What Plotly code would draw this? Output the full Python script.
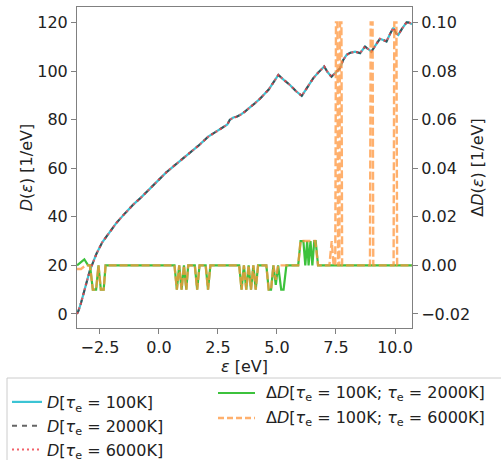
import plotly.graph_objects as go

# ---- data ----
eps_D = [-3.47, -3.40, -3.30, -3.20, -3.05, -2.92, -2.78, -2.64, -2.40, -2.14,
         -1.80, -1.44, -1.10, -0.73, -0.40, -0.03, 0.30, 0.68, 1.00, 1.39,
         1.70, 2.09, 2.30, 2.51, 2.75, 2.90, 3.00, 3.15, 3.29, 3.45,
         3.64, 3.85, 4.07, 4.28, 4.49, 4.65, 4.78, 4.92, 5.06, 5.30,
         5.55, 5.80, 6.05, 6.30, 6.54, 6.75, 7.00, 7.15, 7.31, 7.50,
         7.67, 7.80, 7.95, 8.10, 8.31, 8.52, 8.73, 8.85, 9.00, 9.20,
         9.36, 9.50, 9.64, 9.80, 9.93, 10.05, 10.14, 10.30, 10.49, 10.60, 10.72]
D_100K = [0.0, 1.5, 4.5, 8.4, 13.5, 18.0, 21.8, 24.9, 29.5, 33.2,
          37.5, 41.4, 44.9, 48.2, 51.5, 55.1, 58.2, 61.3, 63.8, 66.8,
          69.5, 73.0, 74.3, 75.8, 77.2, 78.0, 79.9, 80.9, 81.2, 82.0,
          83.3, 85.2, 86.8, 88.6, 90.9, 92.4, 94.3, 96.6, 98.4, 96.3,
          94.3, 91.8, 89.8, 93.5, 97.1, 99.4, 101.9, 99.5, 97.7, 99.5,
          101.2, 104.5, 106.7, 107.5, 108.0, 107.4, 110.1, 109.2, 108.0, 111.0,
          113.3, 112.8, 112.2, 115.5, 117.9, 115.5, 114.9, 117.5, 120.1, 120.0, 119.3]
D_2000K = list(D_100K)
D_6000K = list(D_100K)

eps_dD_2000 = [-3.47, -3.30, -3.16, -3.00, -2.92, -2.80, -2.66, -2.56, -2.46, -2.34, -2.26,
               0.66, 0.76, 0.86, 0.96, 1.06, 1.16, 1.24, 1.52, 1.62, 1.72, 1.98, 2.08, 2.18,
               3.40, 3.50, 3.60, 3.70, 3.80, 3.90, 4.00, 4.10, 4.20,
               4.55, 4.65, 4.75, 4.85, 4.95, 5.05, 5.18, 5.28, 5.40,
               5.90, 6.00, 6.12, 6.20, 6.28, 6.34, 6.42, 6.50, 6.58, 6.64, 6.74, 10.72]
dD_2000 = [0.0, 0.0015, 0.0025, 0.0, 0.0, -0.01, -0.01, 0.0, -0.01, -0.01, 0.0,
           0.0, -0.01, 0.0, -0.01, 0.0, -0.01, 0.0, 0.0, -0.01, 0.0, 0.0, -0.01, 0.0,
           0.0, -0.01, 0.0, -0.01, 0.0, -0.01, 0.0, -0.01, 0.0,
           0.0, -0.01, -0.01, 0.0, -0.008, 0.0, -0.01, -0.01, 0.0,
           0.0, 0.01, 0.01, 0.0, 0.01, 0.0, 0.01, 0.0, 0.01, 0.01, 0.0, 0.0]

eps_dD_6000 = [-3.47, -3.30, -3.10, -2.92, -2.80, -2.66, -2.56, -2.46, -2.34, -2.26,
               0.66, 0.76, 0.86, 0.96, 1.06, 1.16, 1.24, 1.52, 1.62, 1.72, 1.98, 2.08, 2.18,
               3.40, 3.50, 3.60, 3.70, 3.80, 3.90, 4.00, 4.10, 4.20,
               4.55, 4.65, 4.75, 4.85, 4.95, 5.05,
               5.90, 6.00, 6.62, 6.74,
               7.22, 7.32, 7.40, 7.47, 7.50, 7.56, 7.59, 7.64, 7.67, 7.73, 7.76,
               8.94, 8.97, 9.05, 9.08, 9.94, 9.97, 10.06, 10.09, 10.72]
dD_6000 = [-0.0015, -0.0015, 0.0, 0.0, -0.01, -0.01, 0.0, -0.01, -0.01, 0.0,
           0.0, -0.01, 0.0, -0.01, 0.0, -0.01, 0.0, 0.0, -0.01, 0.0, 0.0, -0.01, 0.0,
           0.0, -0.01, 0.0, -0.01, 0.0, -0.01, 0.0, -0.01, 0.0,
           0.0, -0.01, -0.01, 0.0, -0.006, 0.0,
           0.0, 0.01, 0.01, 0.0,
           0.0, 0.01, 0.0, 0.0, 0.10, 0.10, 0.0, 0.0, 0.10, 0.10, 0.0,
           0.0, 0.10, 0.10, 0.0, 0.0, 0.10, 0.10, 0.0, 0.0]

x_ticks = [-2.5, 0.0, 2.5, 5.0, 7.5, 10.0]
y1_ticks = [0, 20, 40, 60, 80, 100, 120]
y2_ticks = [-0.02, 0.0, 0.02, 0.04, 0.06, 0.08, 0.10]

FONT = "DejaVu Sans"
TXT = "#222222"
W, H = 501, 460
PLOT_L, PLOT_R = 77, 412   # plot-area edges in pixels
MT, MB = 7, 132
PH = H - MT - MB

C_D100 = "#3cc4d4"
C_D2000 = "rgba(50,50,50,0.75)"
C_D6000 = "rgba(240,70,80,0.85)"
C_G = "#3cc23c"
C_O = "rgba(255,150,60,0.75)"

NAME_D100 = "<i>D</i>[<i>τ</i><sub>e</sub> = 100K]"
NAME_D2000 = "<i>D</i>[<i>τ</i><sub>e</sub> = 2000K]"
NAME_D6000 = "<i>D</i>[<i>τ</i><sub>e</sub> = 6000K]"
NAME_G = "Δ<i>D</i>[<i>τ</i><sub>e</sub> = 100K; <i>τ</i><sub>e</sub> = 2000K]"
NAME_O = "Δ<i>D</i>[<i>τ</i><sub>e</sub> = 100K; <i>τ</i><sub>e</sub> = 6000K]"


def px_x(p):
    return p / W


def px_y(p):
    return 1 - (p - MT) / PH


fig = go.Figure()
fig.add_trace(go.Scatter(x=eps_D, y=D_100K, mode="lines", name=NAME_D100,
                         line=dict(color=C_D100, width=2.2)))
fig.add_trace(go.Scatter(x=eps_D, y=D_2000K, mode="lines", name=NAME_D2000,
                         line=dict(color=C_D2000, width=2, dash="5px,5px")))
fig.add_trace(go.Scatter(x=eps_D, y=D_6000K, mode="lines", name=NAME_D6000,
                         line=dict(color=C_D6000, width=2.2, dash="2px,3px")))
fig.add_trace(go.Scatter(x=eps_dD_2000, y=dD_2000, mode="lines", yaxis="y2", name=NAME_G,
                         showlegend=False, line=dict(color=C_G, width=2.2)))
fig.add_trace(go.Scatter(x=eps_dD_6000, y=dD_6000, mode="lines", yaxis="y2", name=NAME_O,
                         showlegend=False, line=dict(color=C_O, width=2.4, dash="8px,3px")))

axis_common = dict(showline=True, linecolor="#808080", linewidth=1, ticks="outside",
                   ticklen=5, tickcolor="#808080", showgrid=False, zeroline=False,
                   tickfont=dict(family=FONT, size=16, color=TXT))

# second legend column (ΔD entries), drawn next to the native legend column
row_y = [393, 418]
col2_names = [NAME_G, NAME_O]
col2_lines = [dict(color=C_G, width=2.2), dict(color=C_O, width=2.4, dash="6px,3px")]
shapes = [dict(type="rect", xref="paper", yref="paper",
               x0=px_x(7), x1=px_x(508), y0=px_y(466), y1=px_y(378),
               line=dict(color="#cccccc", width=1), fillcolor="rgba(0,0,0,0)")]
annotations = []
for yy, nm, ln in zip(row_y, col2_names, col2_lines):
    shapes.append(dict(type="line", xref="paper", yref="paper",
                       x0=px_x(218), x1=px_x(255), y0=px_y(yy), y1=px_y(yy), line=ln))
    annotations.append(dict(xref="paper", yref="paper", x=px_x(264), y=px_y(yy),
                            xanchor="left", yanchor="middle", showarrow=False, text=nm,
                            font=dict(family=FONT, size=16, color=TXT)))

fig.update_layout(
    width=W, height=H,
    margin=dict(l=0, r=0, t=MT, b=MB),
    paper_bgcolor="white", plot_bgcolor="white",
    font=dict(family=FONT, size=16, color=TXT),
    xaxis=dict(range=[-3.47, 10.72], tickvals=x_ticks, tickformat=".1f", mirror=True,
               domain=[PLOT_L / W, PLOT_R / W],
               title=dict(text="<i>ε</i> [eV]", font=dict(family=FONT, size=16, color=TXT), standoff=0),
               **axis_common),
    yaxis=dict(range=[-5.8, 126.4], tickvals=y1_ticks,
               title=dict(text="<i>D</i>(<i>ε</i>) [1/eV]", font=dict(family=FONT, size=16, color=TXT), standoff=0),
               **axis_common),
    yaxis2=dict(range=[-0.0258, 0.1064], tickvals=y2_ticks, tickformat=".2f",
                overlaying="y", side="right", anchor="x",
                title=dict(text="Δ<i>D</i>(<i>ε</i>) [1/eV]", font=dict(family=FONT, size=16, color=TXT), standoff=2),
                **axis_common),
    legend=dict(orientation="h", xref="container", yref="container",
                x=7 / W, y=1 - 385 / H, xanchor="left", yanchor="top",
                borderwidth=0, bgcolor="rgba(0,0,0,0)", tracegroupgap=0,
                entrywidth=300, entrywidthmode="pixels",
                font=dict(family=FONT, size=16, color=TXT)),
    showlegend=True,
    shapes=shapes,
    annotations=annotations,
)

fig.write_html("out.html", config={"displayModeBar": False},
               post_script="document.body.style.margin='0';")
